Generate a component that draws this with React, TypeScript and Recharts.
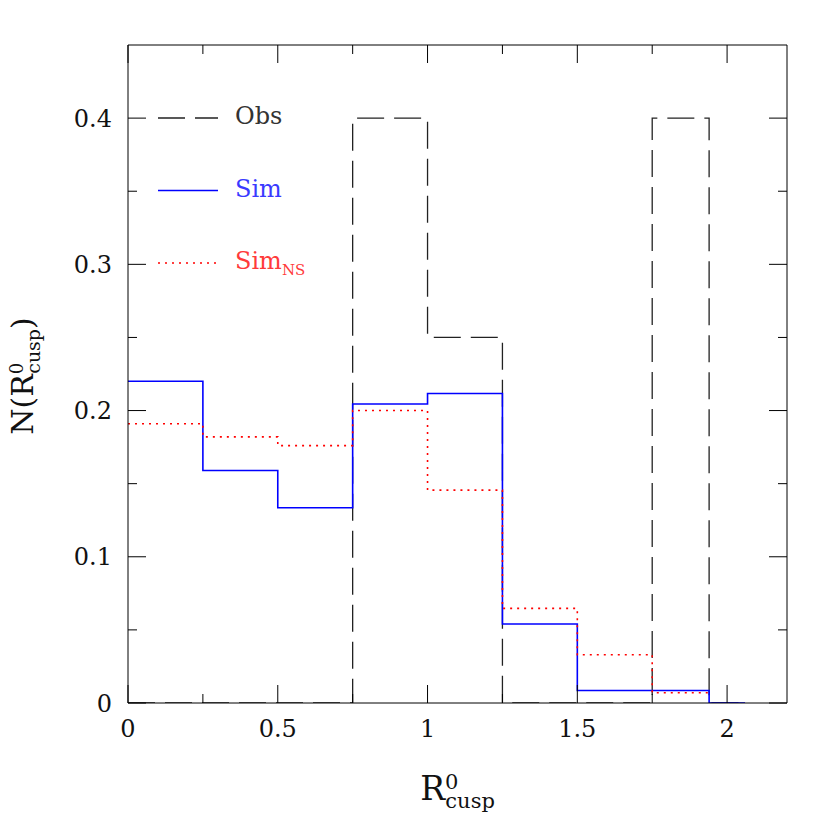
import { ComposedChart, Line, XAxis, YAxis, Legend } from 'recharts';

// Histogram of R0_cusp: observed vs simulated (stepped outlines)

const binEdges = [0, 0.25, 0.5, 0.75, 1, 1.25, 1.5, 1.75, 1.94, 2.06];
const obsValues = [0, 0, 0, 0.4, 0.25, 0, 0, 0.4, 0];
const simValues = [0.22, 0.159, 0.1335, 0.2045, 0.2117, 0.054, 0.0085, 0.0085, 0];
const simNsValues = [0.191, 0.182, 0.176, 0.2, 0.1456, 0.0647, 0.033, 0.007, null];

const xTicks = [0, 0.25, 0.5, 0.75, 1, 1.25, 1.5, 1.75, 2];
const yTicks = [0, 0.05, 0.1, 0.15, 0.2, 0.25, 0.3, 0.35, 0.4];

const FONT = '"DejaVu Serif", "Liberation Serif", serif';

// step points for type="stepAfter": one point per bin start, plus the closing edge
function toSteps(values: (number | null)[]) {
  const pts: { x: number; y: number }[] = [];
  let last = 0;
  values.forEach((v, i) => {
    if (v === null) return;
    pts.push({ x: binEdges[i], y: v });
    last = i;
  });
  pts.push({ x: binEdges[last + 1], y: values[last] as number });
  return pts;
}

const obsData = toSteps(obsValues);
const simData = toSteps(simValues);
const simNsData = toSteps(simNsValues);

const isMultiple = (v: number, step: number) => Math.abs(v / step - Math.round(v / step)) < 1e-6;

function AxisTick(props: any) {
  const { x, y, payload, side } = props;
  const v = payload.value as number;
  const horiz = side === 'bottom' || side === 'top';
  const major = horiz ? isMultiple(v, 0.5) : isMultiple(v, 0.1);
  const len = major ? 18 : 9;
  let line;
  if (side === 'bottom') line = <line x1={x} x2={x} y1={y} y2={y - len} />;
  else if (side === 'top') line = <line x1={x} x2={x} y1={y} y2={y + len} />;
  else if (side === 'left') line = <line x1={x} x2={x + len} y1={y} y2={y} />;
  else line = <line x1={x} x2={x - len} y1={y} y2={y} />;
  return (
    <g>
      <g stroke="#000" strokeWidth={1}>{line}</g>
      {major && side === 'bottom' && (
        <text x={x} y={y + 34} textAnchor="middle" fontSize={24} fontFamily={FONT} fill="#111">
          {String(v)}
        </text>
      )}
      {major && side === 'left' && (
        <text x={x - 16} y={y + 8.5} textAnchor="end" fontSize={24} fontFamily={FONT} fill="#111">
          {String(v)}
        </text>
      )}
    </g>
  );
}

function XTitle(props: any) {
  const { x, y, width } = props.viewBox;
  const cx = x + width / 2;
  return (
    <text x={cx} y={y + 97} textAnchor="middle" fontFamily={FONT} fontSize={33} fill="#111">
      R
      <tspan fontSize={21} dy={-11}>0</tspan>
      <tspan fontSize={21} dx={-13} dy={19}>cusp</tspan>
    </text>
  );
}

function YTitle(props: any) {
  const { x, y, height } = props.viewBox;
  const cy = y + height / 2 + 2;
  return (
    <g transform={`translate(${x + 25}, ${cy}) rotate(-90)`}>
      <text x={0} y={0} textAnchor="middle" fontFamily={FONT} fontSize={30} fill="#111">
        N(R
        <tspan fontSize={18} dy={-10}>0</tspan>
        <tspan fontSize={19} dx={-11} dy={17}>cusp</tspan>
        <tspan fontSize={30} dy={-7}>)</tspan>
      </text>
    </g>
  );
}

function LegendBox(props: any) {
  const items = props.payload || [];
  return (
    <svg width={200} height={190}>
      {items.map((entry: any, i: number) => {
        const y = 23 + i * 72.5;
        const [main, sub] = String(entry.value).split('_');
        const textColor = i === 0 ? '#333' : i === 1 ? '#3a3aff' : '#ff3a3a';
        return (
          <g key={entry.value}>
            <line
              x1={8}
              x2={68}
              y1={y}
              y2={y}
              stroke={entry.color}
              strokeWidth={entry.payload?.strokeWidth ?? 1.5}
              strokeDasharray={entry.payload?.strokeDasharray}
            />
            <text x={85} y={y + 6} fontFamily={FONT} fontSize={24} fill={textColor}>
              {main}
              {sub && (
                <tspan fontSize={15} dy={6}>
                  {sub}
                </tspan>
              )}
            </text>
          </g>
        );
      })}
    </svg>
  );
}

export default function App() {
  return (
    <div style={{ width: 822, height: 822, background: '#fff' }}>
      <ComposedChart width={822} height={822} margin={{ top: 36, right: 42, bottom: 47, left: 0 }}>
        <XAxis
          xAxisId="bottom"
          type="number"
          dataKey="x"
          domain={[0, 2.2]}
          allowDataOverflow
          ticks={xTicks}
          interval={0}
          height={80}
          tickSize={0}
          tickMargin={0}
          axisLine={{ stroke: '#000', strokeWidth: 1 }}
          tickLine={false}
          tick={(p: any) => <AxisTick {...p} side="bottom" />}
          label={(p: any) => <XTitle {...p} />}
        />
        <XAxis
          xAxisId="top"
          orientation="top"
          type="number"
          dataKey="x"
          domain={[0, 2.2]}
          allowDataOverflow
          ticks={xTicks}
          interval={0}
          height={1}
          tickSize={0}
          tickMargin={0}
          axisLine={{ stroke: '#000', strokeWidth: 1 }}
          tickLine={false}
          tick={(p: any) => <AxisTick {...p} side="top" />}
        />
        <YAxis
          yAxisId="left"
          type="number"
          domain={[0, 0.45]}
          allowDataOverflow
          ticks={yTicks}
          interval={0}
          width={120}
          tickSize={0}
          tickMargin={0}
          axisLine={{ stroke: '#000', strokeWidth: 1 }}
          tickLine={false}
          tick={(p: any) => <AxisTick {...p} side="left" />}
          label={(p: any) => <YTitle {...p} />}
        />
        <YAxis
          yAxisId="right"
          orientation="right"
          type="number"
          domain={[0, 0.45]}
          allowDataOverflow
          ticks={yTicks}
          interval={0}
          width={1}
          tickSize={0}
          tickMargin={0}
          axisLine={{ stroke: '#000', strokeWidth: 1 }}
          tickLine={false}
          tick={(p: any) => <AxisTick {...p} side="right" />}
        />
        <Legend
          layout="vertical"
          align="center"
          verticalAlign="middle"
          content={(p: any) => <LegendBox {...p} />}
          wrapperStyle={{ left: 142, top: 87, width: 200, height: 190 }}
        />
        <Line
          xAxisId="bottom"
          yAxisId="left"
          data={obsData}
          dataKey="y"
          name="Obs"
          type="stepAfter"
          stroke="#222"
          strokeWidth={1.3}
          strokeDasharray="27 10"
          dot={false}
          activeDot={false}
          isAnimationActive={false}
        />
        <Line
          xAxisId="bottom"
          yAxisId="left"
          data={simData}
          dataKey="y"
          name="Sim"
          type="stepAfter"
          stroke="#0000ff"
          strokeWidth={1.6}
          dot={false}
          activeDot={false}
          isAnimationActive={false}
        />
        <Line
          xAxisId="bottom"
          yAxisId="left"
          data={simNsData}
          dataKey="y"
          name="Sim_NS"
          type="stepAfter"
          stroke="#ff0000"
          strokeWidth={1.6}
          strokeDasharray="2 5"
          dot={false}
          activeDot={false}
          isAnimationActive={false}
        />
        {/* invisible carriers so the top / right frame axes get rendered */}
        <Line
          xAxisId="top"
          yAxisId="right"
          data={simData}
          dataKey="y"
          stroke="none"
          legendType="none"
          dot={false}
          activeDot={false}
          isAnimationActive={false}
        />
      </ComposedChart>
    </div>
  );
}
